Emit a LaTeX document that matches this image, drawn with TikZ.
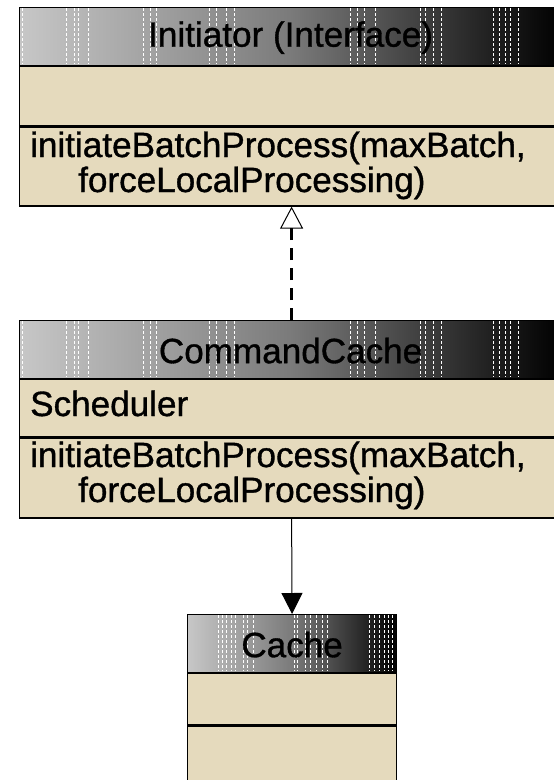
\documentclass[tikz,border=0pt]{standalone}
\usepackage{fontspec}
\setmainfont{Liberation Sans}[BoldFont=Liberation Sans, BoldFeatures={FakeBold=1.0}]
\usetikzlibrary{arrows.meta}
\definecolor{beige}{HTML}{E5DABD}
\tikzset{
  boxpart/.style={draw=black, line width=1.2pt, fill=beige, rectangle, inner sep=0pt, anchor=north west, minimum width=542pt},
  hdr/.style={boxpart, left color=black!22, right color=black, middle color=black!52},
  txt/.style={anchor=base west, inner sep=0pt, font=\fontsize{35.1}{40}\selectfont\bfseries},
  ttl/.style={inner sep=0pt, font=\fontsize{35.1}{40}\selectfont\bfseries},
  dither/.style={white, line width=0.6pt, dash pattern=on 3pt off 2pt},
}
\begin{document}
\begin{tikzpicture}[x=1pt,y=1pt]
\clip (0,0) rectangle (554,-780);
% Initiator
\node[hdr, minimum height=58pt] (ih) at (19,-7) {};
\foreach \x in {22,66,74,78,88,143,150,156,209,216,226,234,350,357,364,375,420,425,433,441,493,499,505,510,518}
  \draw[dither] (\x,-8) -- (\x,-64);
\node[ttl] (iht) at ([yshift=-1pt]ih.center) {Initiator (Interface)};
\node[boxpart, minimum height=59pt] (ia) at (ih.south west) {};
\node[boxpart, minimum height=79pt] (im) at (ia.south west) {};
\node[txt] (im1) at (30,-157) {initiateBatchProcess(maxBatch,};
\node[txt] (im2) at (78,-192) {forceLocalProcessing)};
% CommandCache
\node[hdr, minimum height=58pt] (ch) at (19,-320) {};
\foreach \x in {22,66,74,78,88,143,150,156,209,216,226,234,350,357,364,375,420,425,433,441,493,499,505,510,518}
  \draw[dither] (\x,-321) -- (\x,-377);
\node[ttl] (cht) at ([yshift=-1pt]ch.center) {CommandCache};
\node[boxpart, minimum height=57pt] (ca) at (ch.south west) {};
\node[txt] (ca1) at (30,-416) {Scheduler};
\node[boxpart, minimum height=80pt] (cm) at (ca.south west) {};
\node[txt] (cm1) at (30,-467) {initiateBatchProcess(maxBatch,};
\node[txt] (cm2) at (78,-502) {forceLocalProcessing)};
% Cache
\node[hdr, minimum width=209pt, minimum height=58pt] (kh) at (187,-614) {};
\foreach \x in {218,222,226,231,235,243,247,253,294,297,305,310,316,322,327,369,374,379,384,388,392}
  \draw[dither] (\x,-615) -- (\x,-671);
\node[ttl] (kht) at ([yshift=-1pt]kh.center) {Cache};
\node[boxpart, minimum width=209pt, minimum height=51pt] (ka) at (kh.south west) {};
\node[boxpart, minimum width=209pt, minimum height=80pt] (km) at (ka.south west) {};
% connectors
\draw[line width=3pt, dash pattern=on 12pt off 8pt, -{Triangle[open, length=22pt, width=23pt, line width=1pt]}]
  ([xshift=1pt]ch.north) -- ([xshift=1pt]im.south);
\draw[line width=1pt, -{Triangle[length=21pt, width=21pt]}] ([xshift=1pt]cm.south) -- (kh.north);
\end{tikzpicture}
\end{document}
